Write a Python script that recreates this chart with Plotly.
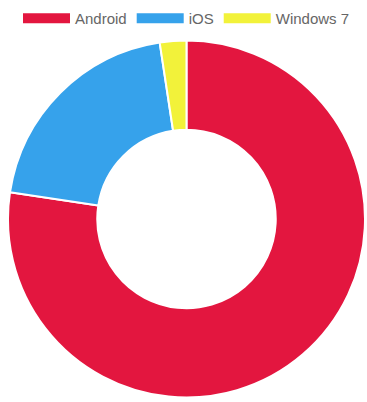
import plotly.graph_objects as go

labels = ["Android", "iOS", "Windows 7"]
shares = [77.4, 20.2, 2.4]
colors = ["#E3163F", "#36A2EB", "#F2F23A"]

fig = go.Figure()

fig.add_trace(go.Pie(
    labels=labels, values=shares, hole=0.5, sort=False,
    direction="clockwise", rotation=0, textinfo="none",
    marker=dict(colors=colors, line=dict(color="white", width=2)),
    showlegend=False, hoverinfo="label+value",
    domain=dict(x=[0, 1], y=[0, 1]),
))

# legend boxes like chart.js: wide coloured bars
for name, c in zip(labels, colors):
    fig.add_trace(go.Scatter(
        x=[None], y=[None], mode="lines", name=name,
        line=dict(color=c, width=14), hoverinfo="skip",
    ))

fig.update_layout(
    width=367, height=402,
    margin=dict(l=8, r=2, t=40, b=4),
    paper_bgcolor="white", plot_bgcolor="white",
    font=dict(family="Liberation Sans, Arial, sans-serif", size=15, color="#666"),
    xaxis=dict(visible=False), yaxis=dict(visible=False),
    legend=dict(orientation="h", x=0.5, xanchor="center", y=0.995,
                yref="container", yanchor="top", itemwidth=47,
                font=dict(size=15, color="#666")),
)
# drop the browser's default 8px body margin so the figure sits at 0,0
fig.write_html("out.html", config={"displayModeBar": False},
               post_script="document.body.style.margin='0';")
